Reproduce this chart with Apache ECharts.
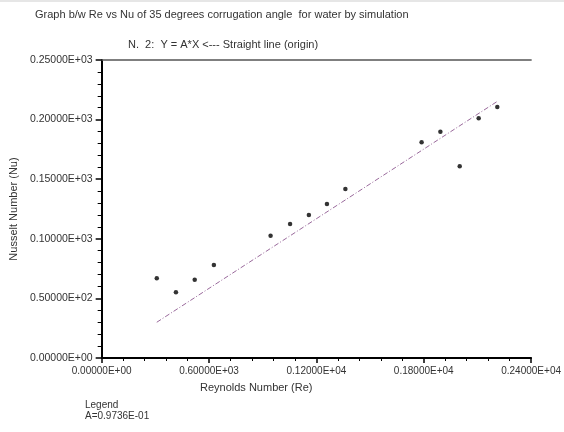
<!DOCTYPE html>
<html><head><meta charset="utf-8">
<script src="https://cdn.jsdelivr.net/npm/echarts@6/dist/echarts.min.js"></script>
<style>html,body{margin:0;padding:0;background:#fff}#chart{width:564px;height:432px}</style>
</head><body><div id="chart"></div>
<script>
// Simulation results: Reynolds number vs Nusselt number (35 deg corrugation, water)
const reynolds = [308, 415, 520, 627, 944, 1053, 1158, 1259, 1362, 1788, 1893, 2001, 2107, 2211];
const nusselt = [66.9, 55.1, 65.7, 78.0, 102.6, 112.4, 120.0, 129.2, 141.8, 181.0, 189.9, 160.8, 201.1, 210.6];
// Fitted straight line through the origin, Y = A*X
const slopeA = 0.09736;
const slopeLabel = 'A=0.9736E-01';
const xTickLabels = ['0.00000E+00', '0.60000E+03', '0.12000E+04', '0.18000E+04', '0.24000E+04'];
const yTickLabels = ['0.00000E+00', '0.50000E+02', '0.10000E+03', '0.15000E+03', '0.20000E+03', '0.25000E+03'];

const FONT = '"Liberation Sans", Arial, sans-serif';
const TXT = '#333';
const X_STEP = 600, Y_STEP = 50;

const points = reynolds.map((r, i) => [r, nusselt[i]]);
const rLo = reynolds[0], rHi = reynolds[reynolds.length - 1];
const fitLine = [[rLo, slopeA * rLo], [rHi, slopeA * rHi]];

const chart = echarts.init(document.getElementById('chart'), null, { renderer: 'canvas' });
chart.setOption({
  animation: false,
  backgroundColor: '#fff',
  grid: { left: 101, right: 29, top: 60, bottom: 74, containLabel: false },
  xAxis: [{
    type: 'value', min: 0, max: 2400, interval: X_STEP, position: 'bottom',
    axisLine: { show: true, onZero: false, lineStyle: { color: '#000', width: 2 } },
    axisTick: { show: true, length: 5, lineStyle: { color: '#000', width: 1.5 } },
    minorTick: { show: true, splitNumber: 5, length: 3, lineStyle: { color: '#000', width: 1 } },
    splitLine: { show: false },
    axisLabel: {
      fontFamily: FONT, fontSize: 10, color: TXT, margin: 8,
      formatter: v => xTickLabels[Math.round(v / X_STEP)]
    }
  }, {
    type: 'value', min: 0, max: 2400, position: 'top',
    axisLine: { show: true, onZero: false, lineStyle: { color: '#555', width: 1.5 } },
    axisTick: { show: false }, axisLabel: { show: false }, splitLine: { show: false }
  }],
  yAxis: {
    type: 'value', min: 0, max: 250, interval: Y_STEP,
    name: 'Nusselt Number (Nu)', nameLocation: 'middle', nameGap: 82, nameRotate: 90,
    nameTextStyle: { fontFamily: FONT, fontSize: 11, color: TXT },
    axisLine: { show: true, onZero: false, lineStyle: { color: '#000', width: 2 } },
    axisTick: { show: true, length: 6, lineStyle: { color: '#000', width: 1.5 } },
    minorTick: { show: true, splitNumber: 5, length: 4, lineStyle: { color: '#000', width: 1 } },
    splitLine: { show: false },
    axisLabel: {
      fontFamily: FONT, fontSize: 10.5, color: TXT, margin: 9,
      formatter: v => yTickLabels[Math.round(v / Y_STEP)]
    }
  },
  series: [{
    type: 'line', data: fitLine, xAxisIndex: 0, showSymbol: false, symbol: 'none',
    lineStyle: { color: '#9a6a9c', width: 1, type: [5, 2, 1, 2] }, z: 2
  }, {
    type: 'scatter', data: points, xAxisIndex: 0, symbol: 'circle', symbolSize: 4.5,
    itemStyle: { color: '#000' }, z: 3
  }],
  graphic: [
    { type: 'rect', left: 0, top: 0, shape: { width: 564, height: 2 }, style: { fill: '#e6e6e6' } },
    { type: 'text', left: 35, top: 9, style: { text: 'Graph b/w Re vs Nu of 35 degrees corrugation angle  for water by simulation', font: '11px ' + FONT, fill: TXT } },
    { type: 'text', left: 128, top: 39, style: { text: 'N.  2:  Y = A*X <--- Straight line (origin)', font: '11px ' + FONT, fill: TXT } },
    { type: 'text', left: 200, top: 382, style: { text: 'Reynolds Number (Re)', font: '11px ' + FONT, fill: TXT } },
    { type: 'text', left: 85, top: 400, style: { text: 'Legend', font: '10px ' + FONT, fill: TXT } },
    { type: 'text', left: 85, top: 411, style: { text: slopeLabel, font: '10px ' + FONT, fill: TXT } }
  ]
});
</script>
</body></html>
